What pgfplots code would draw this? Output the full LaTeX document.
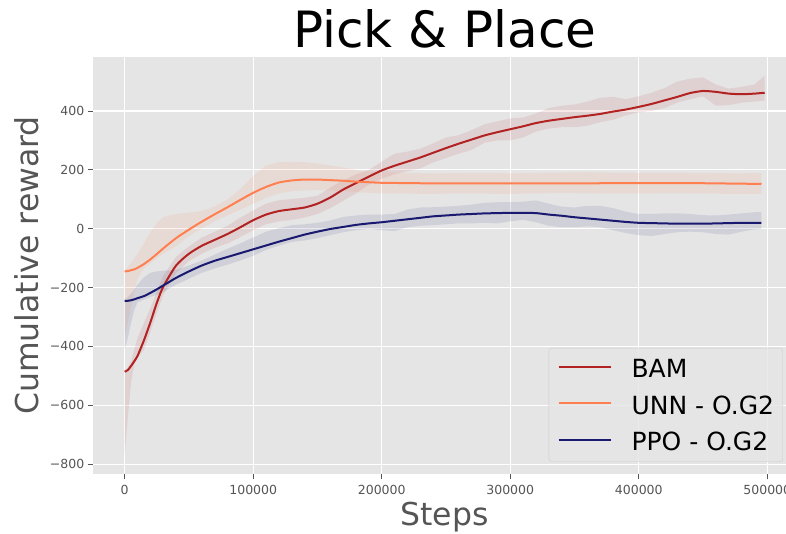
\documentclass[border=0pt]{standalone}
\usepackage{pgfplots}
\pgfplotsset{compat=1.18}
\usepackage{pgfplotstable}
\usepgfplotslibrary{fillbetween}
\usepackage{fontspec}
\setmainfont{DejaVu Sans}
\definecolor{bgcol}{HTML}{E5E5E5}
\definecolor{txtgray}{HTML}{555555}
\definecolor{legedge}{HTML}{CCCCCC}
\definecolor{bamc}{HTML}{B22222}
\definecolor{unnc}{HTML}{FF7F50}
\definecolor{ppoc}{HTML}{191970}

\pgfplotstableread{
x m lo hi
0 -486 -770 -486
2500 -480 -640 -470
5000 -466 -520 -450
7500 -450 -460 -410
10000 -432 -440 -370
15000 -379 -410 -320
20000 -318 -350 -270
25000 -252 -285 -215
30000 -197 -225 -160
40000 -125 -150 -95
50000 -85 -110 -60
60000 -58 -85 -30
70000 -38 -65 -10
80000 -18 -50 10
90000 5 -28 38
100000 29 -5 62
110000 48 15 85
120000 60 25 97
130000 66 30 101
140000 72 38 105
150000 85 50 112
160000 106 70 140
170000 133 95 165
180000 155 120 185
190000 177 150 200
200000 198 170 228
210000 214 185 255
220000 228 195 262
230000 242 205 272
240000 258 225 290
250000 274 240 310
260000 289 255 318
270000 303 268 335
280000 317 292 355
290000 328 300 365
300000 338 300 375
310000 348 310 378
320000 359 330 392
330000 367 340 410
340000 373 345 418
350000 379 345 422
360000 384 350 432
370000 390 362 445
380000 398 370 448
390000 405 385 440
400000 414 395 450
410000 424 400 462
420000 436 410 478
430000 448 428 500
440000 461 440 510
450000 468 450 514
460000 465 418 490
470000 459 420 476
480000 457 428 482
490000 459 432 490
498000 462 435 520
}\bam

\pgfplotstableread{
x m lo hi
0 -145 -367 -140
2500 -144 -320 -130
5000 -141 -260 -115
7500 -138 -210 -100
10000 -133 -170 -85
15000 -120 -135 -50
20000 -104 -118 -10
25000 -86 -100 20
30000 -67 -85 40
40000 -32 -60 50
50000 -3 -25 55
60000 24 0 60
70000 49 25 75
80000 73 45 100
90000 98 65 135
100000 122 85 180
110000 142 105 215
120000 157 120 226
130000 164 127 227
140000 167 130 226
150000 167 132 222
160000 165 130 215
170000 163 127 208
180000 160 124 200
190000 158 122 194
200000 156 120 192
220000 155 119 190
240000 154 118 188
260000 154 120 189
280000 154 119 190
300000 154 118 188
320000 154 120 190
340000 154 121 191
360000 154 120 192
380000 155 119 191
400000 155 119 190
420000 155 120 191
440000 155 120 190
460000 154 119 189
480000 153 118 188
495500 152 118 190
}\unn

\pgfplotstableread{
x m lo hi
0 -245 -407 -240
2500 -245 -370 -232
5000 -243 -320 -220
7500 -240 -275 -205
10000 -236 -250 -190
15000 -229 -240 -165
20000 -218 -232 -150
25000 -206 -225 -145
30000 -193 -215 -143
40000 -167 -190 -140
50000 -145 -170 -125
60000 -125 -150 -108
70000 -109 -135 -88
80000 -96 -122 -68
90000 -83 -108 -50
100000 -70 -92 -30
110000 -57 -72 -10
120000 -44 -58 2
130000 -32 -45 12
140000 -20 -40 15
150000 -10 -32 20
160000 -1 -22 28
170000 6 -12 40
180000 13 -5 45
190000 18 0 48
200000 22 -5 48
210000 27 -8 50
220000 32 5 65
230000 37 10 72
240000 42 12 73
250000 45 15 75
260000 48 18 78
270000 50 18 82
280000 52 20 88
290000 53 18 90
300000 54 25 90
310000 54 30 92
320000 53 22 96
330000 48 10 85
340000 44 5 75
350000 39 5 72
360000 35 8 78
370000 31 5 78
380000 27 -5 70
390000 23 -15 58
400000 20 -22 50
410000 19 -25 50
420000 18 -18 52
430000 17 -12 52
440000 17 -10 50
450000 17 -12 46
460000 18 -18 45
470000 19 -20 48
480000 20 -10 52
490000 20 -2 56
495500 20 0 56
}\ppo

\begin{document}
\begin{tikzpicture}
\begin{axis}[
  at={(0pt,0pt)}, anchor=south west,
  scale only axis, width=704pt, height=417.6pt,
  xmin=-24900, xmax=522900, ymin=-834.5, ymax=584.5,
  axis background/.style={fill=bgcol},
  axis line style={draw=none},
  grid=major, major grid style={white, line width=1.1pt},
  tick align=outside, tick pos=left,
  major tick length=4.9pt,
  tick style={color=txtgray, line width=0.8pt},
  xtick={0,100000,200000,300000,400000,500000},
  xticklabels={0,100000,200000,300000,400000,500000},
  ytick={-800,-600,-400,-200,0,200,400},
  yticklabels={−800,−600,−400,−200,0,200,400},
  scaled x ticks=false,
  ticklabel style={font=\fontsize{12.5}{15}\selectfont, text=txtgray},
  xticklabel style={yshift=-2pt},
  xlabel={Steps}, ylabel={Cumulative reward},
  label style={font=\fontsize{31.5}{36}\selectfont, text=txtgray},
  xlabel style={at={(axis description cs:0.5,0)}, anchor=base, yshift=-50.7pt},
  ylabel style={at={(axis description cs:-0.077,0.5)}, anchor=base, rotate=0},
  title={Pick \& Place},
  title style={font=\fontsize{50}{60}\selectfont, at={(axis description cs:0.5,1)}, anchor=base, yshift=2.7pt},
  legend style={at={(0.9805,0.0295)}, anchor=south east, draw=legedge, fill=bgcol, fill opacity=0.8, text opacity=1,
    rounded corners=3pt, font=\fontsize{25}{30}\selectfont, inner xsep=8.7pt, inner ysep=11pt, row sep=18.5pt,
    nodes={inner sep=0pt, text height=18.2pt, text depth=0pt},
    /tikz/every odd column/.append style={column sep=20pt}},
  legend cell align=left,
  legend image code/.code={\draw[#1, draw opacity=1, line width=2pt] (0pt,1.5pt) -- (52pt,1.5pt);},
]
\addplot[draw=none, name path=bamhi, forget plot] table[x=x,y=hi]{\bam};
\addplot[draw=none, name path=bamlo, forget plot] table[x=x,y=lo]{\bam};
\addplot[fill=bamc, fill opacity=0.1, draw=none, forget plot] fill between[of=bamhi and bamlo];
\addplot[draw=none, name path=unnhi, forget plot] table[x=x,y=hi]{\unn};
\addplot[draw=none, name path=unnlo, forget plot] table[x=x,y=lo]{\unn};
\addplot[fill=unnc, fill opacity=0.1, draw=none, forget plot] fill between[of=unnhi and unnlo];
\addplot[draw=none, name path=ppohi, forget plot] table[x=x,y=hi]{\ppo};
\addplot[draw=none, name path=ppolo, forget plot] table[x=x,y=lo]{\ppo};
\addplot[fill=ppoc, fill opacity=0.1, draw=none, forget plot] fill between[of=ppohi and ppolo];
\addplot[bamc, line width=2pt, smooth, tension=0.4] table[x=x,y=m]{\bam};
\addlegendentry{BAM}
\addplot[unnc, line width=2pt, smooth, tension=0.4] table[x=x,y=m]{\unn};
\addlegendentry{UNN - O.G2}
\addplot[ppoc, line width=2pt, smooth, tension=0.4] table[x=x,y=m]{\ppo};
\addlegendentry{PPO - O.G2}
\end{axis}
\pgfresetboundingbox
\path (-92.7pt,-58.7pt) rectangle (693.3pt,474.3pt);
\end{tikzpicture}
\end{document}
